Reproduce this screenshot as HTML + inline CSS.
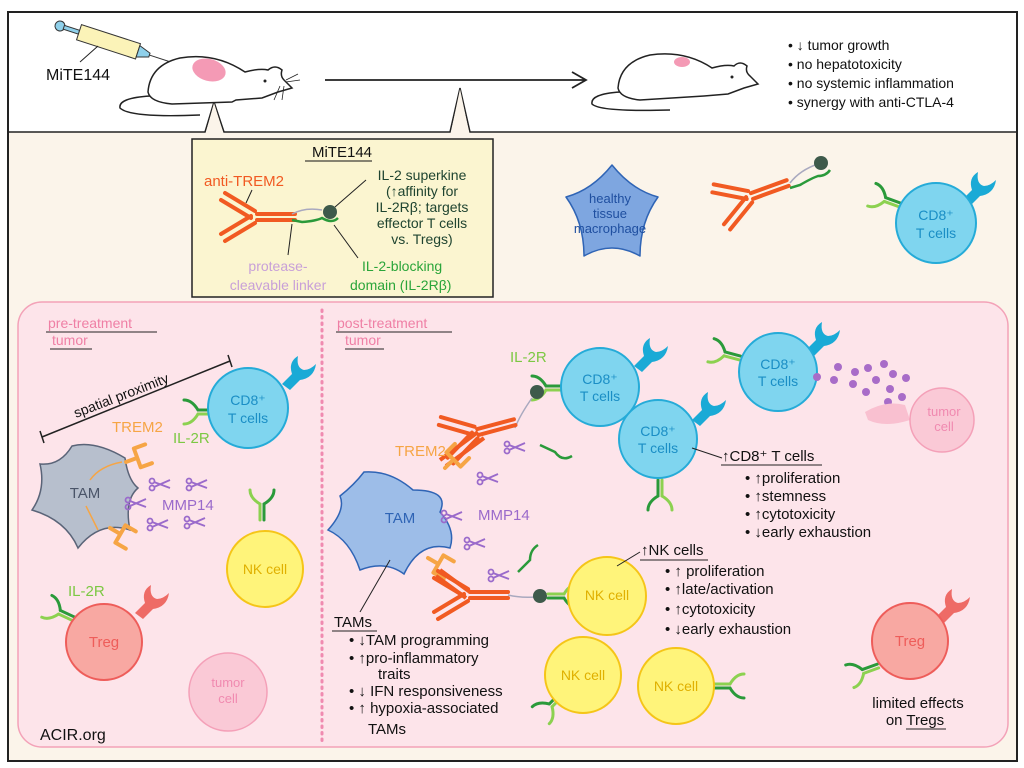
<!DOCTYPE html>
<html><head><meta charset="utf-8"><style>
body{margin:0;background:#fff}
svg{display:block}
text{font-family:"Liberation Sans",sans-serif}
</style></head><body>
<svg width="1024" height="768" viewBox="0 0 1024 768" xmlns="http://www.w3.org/2000/svg">
<defs>
<g id="ab" stroke="#f15a22" stroke-width="4" stroke-linecap="round" fill="none">
<path d="M0,-3 L38,-3 M0,3 L38,3"/>
<path d="M-2,-6 L-32,-24 M-6,1 L-36,-17"/>
<path d="M-2,6 L-32,24 M-6,-1 L-36,17"/>
</g>
<g id="rec" fill="none" stroke-width="3" stroke-linecap="round">
<path d="M0,-2 L16,-2" stroke="#8cd150"/><path d="M0,2 L16,2" stroke="#2a9a3a"/>
<path d="M16,-2 Q22,-12 30,-12" stroke="#8cd150"/><path d="M16,2 Q22,12 30,12" stroke="#2a9a3a"/>
</g>
<g id="cup" fill="#1aaad6"><path d="M0,0 L10,-10 Q6,-22 16,-28 Q14,-16 22,-14 Q28,-14 34,-20 Q32,-6 18,-4 L8,6Z"/></g>
<g id="cupr" fill="#ee6b66"><path d="M0,0 L10,-10 Q6,-22 16,-28 Q14,-16 22,-14 Q28,-14 34,-20 Q32,-6 18,-4 L8,6Z"/></g>
<g id="sc" stroke="#9a6acb" stroke-width="1.8" fill="none"><circle cx="-8" cy="-3" r="2.5"/><circle cx="-8" cy="4" r="2.5"/><path d="M-6,-2 L10,4 M-6,3 L10,-4"/></g>
<g id="trem" stroke="#f6a545" stroke-width="4" fill="none" stroke-linecap="round"><path d="M0,0 L12,0 M12,-10 L12,10 M12,-10 L24,-10 M12,10 L24,10"/></g>
</defs>
<rect width="1024" height="768" fill="#fff"/>
<rect x="8" y="132" width="1009" height="628" fill="#fbf4ea"/>
<rect x="8" y="12" width="1009" height="749" fill="none" stroke="#222" stroke-width="2"/>
<path d="M8,132 L205,132 L214,102 L224,132 L450,132 L460,88 L470,132 L1017,132" fill="none" stroke="#222" stroke-width="1.5"/>
<path d="M206,132 L214,103 L223,132Z M451,132 L460,89 L469,132Z" fill="#fbf4ea"/>
<!-- syringe -->
<g transform="translate(60,26) rotate(18)">
<circle cx="0" cy="0" r="5" fill="#8fd0ea" stroke="#333"/><rect x="4" y="-2" width="16" height="4" fill="#8fd0ea" stroke="#333"/>
<rect x="20" y="-8" width="62" height="16" fill="#fbf3b8" stroke="#333"/><path d="M82,-6 L94,-2 L94,2 L82,6Z" fill="#8fd0ea" stroke="#333"/><path d="M94,0 L118,0" stroke="#333"/>
</g>
<path d="M98,46 L80,62" stroke="#222"/>
<text x="46" y="80" font-size="16" fill="#111">MiTE144</text>
<!-- mouse 1 -->
<path d="M148,92 Q150,65 180,58 Q215,52 245,72 Q260,68 268,70 Q275,64 282,70 Q280,76 284,80 L292,88 L278,92 L262,98 L236,100 L232,102 L172,104 Q150,102 148,92Z" fill="#fff" stroke="#222" stroke-width="1.5"/>
<path d="M150,96 Q118,98 120,108 Q130,118 200,115" fill="none" stroke="#222" stroke-width="1.5"/>
<ellipse cx="209" cy="70" rx="17" ry="11" fill="#f49ab5" transform="rotate(15 209 70)"/>
<circle cx="265" cy="81" r="1.5" fill="#222"/>
<path d="M286,80 L298,74 M286,82 L300,80 M280,86 L274,100 M284,86 L282,100" stroke="#222" stroke-width="0.8"/>
<!-- arrow -->
<path d="M325,80 L585,80 M572,72 L586,80 L572,88" fill="none" stroke="#222" stroke-width="1.8"/>
<!-- mouse 2 -->
<path d="M618,88 Q620,62 650,55 Q685,50 712,68 Q726,64 734,66 Q740,60 747,66 Q745,72 750,76 L758,84 L744,88 L728,94 L704,96 L640,100 Q620,98 618,88Z" fill="#fff" stroke="#222" stroke-width="1.5"/>
<path d="M620,92 Q590,94 592,104 Q600,112 670,110" fill="none" stroke="#222" stroke-width="1.5"/>
<ellipse cx="682" cy="62" rx="8" ry="5" fill="#f49ab5"/>
<circle cx="732" cy="77" r="1.5" fill="#222"/>
<g font-size="14" fill="#111"><text x="788" y="50">• ↓ tumor growth</text><text x="788" y="69">• no hepatotoxicity</text><text x="788" y="88">• no systemic inflammation</text><text x="788" y="107">• synergy with anti-CTLA-4</text></g>
<!-- MiTE box -->
<rect x="192" y="139" width="301" height="158" fill="#fbf5d0" stroke="#222" stroke-width="1.5"/>
<text x="342" y="157" font-size="15" text-anchor="middle" fill="#111">MiTE144</text><path d="M305,161 L372,161" stroke="#111"/>
<text x="204" y="186" font-size="15" fill="#f15a22">anti-TREM2</text>
<path d="M252,190 L246,203" stroke="#222"/>
<use href="#ab" x="257" y="217"/>
<path d="M292,214 Q305,207 322,210" stroke="#a9a9bf" stroke-width="1.5" fill="none"/>
<path d="M292,220 L302,222 Q316,221 322,218 Q332,224 338,218" stroke="#2a9a3a" stroke-width="2.5" fill="none"/>
<circle cx="330" cy="212" r="7" fill="#3e5a4b"/>
<path d="M335,207 L366,180 M334,225 L358,258 M292,224 L288,255" stroke="#222"/>
<g font-size="14" fill="#1f4430" text-anchor="middle"><text x="422" y="180">IL-2 superkine</text><text x="422" y="196">(↑affinity for</text><text x="422" y="212">IL-2Rβ; targets</text><text x="422" y="228">effector T cells</text><text x="422" y="244">vs. Tregs)</text></g>
<g font-size="14" fill="#2aa53a"><text x="362" y="271">IL-2-blocking</text><text x="350" y="290">domain  (IL-2Rβ)</text></g>
<g font-size="14" fill="#c8a0d8" text-anchor="middle"><text x="278" y="271">protease-</text><text x="278" y="290">cleavable linker</text></g>
<!-- healthy macrophage -->
<path d="M612,165 Q632,190 658,197 Q640,222 640,256 Q612,240 584,256 Q584,222 566,197 Q592,190 612,165Z" fill="#7ea6e0" stroke="#2f64b5" stroke-width="1.5" stroke-linejoin="round"/>
<g font-size="13" fill="#1f4fa0" text-anchor="middle"><text x="610" y="203">healthy</text><text x="610" y="218">tissue</text><text x="610" y="233">macrophage</text></g>
<use href="#ab" transform="translate(752,196) rotate(-20)"/>
<path d="M790,183 Q800,170 818,164" stroke="#a9a9bf" stroke-width="1.5" fill="none"/><path d="M790,188 L800,185 Q812,178 818,176 Q826,176 830,170" stroke="#2a9a3a" stroke-width="2.5" fill="none"/><circle cx="821" cy="163" r="7" fill="#3e5a4b"/>
<!-- top right CD8 -->
<use href="#rec" transform="translate(900,205) rotate(200)"/><use href="#cup" transform="translate(962,200)"/>
<circle cx="936" cy="223" r="40" fill="#7fd5ef" stroke="#25abd8" stroke-width="2"/>
<text x="936" y="220" font-size="14" fill="#1a8ec5" text-anchor="middle">CD8⁺</text><text x="936" y="238" font-size="14" fill="#1a8ec5" text-anchor="middle">T cells</text>
<!-- tumor region -->
<rect x="18" y="302" width="990" height="445" rx="24" fill="#fde4ea" stroke="#f3a2b8" stroke-width="1.5"/>
<path d="M322,310 L322,745" stroke="#f08ab0" stroke-width="3" stroke-dasharray="1.5,5" stroke-linecap="round"/>
<g font-size="14" fill="#ef7fa5"><text x="48" y="328">pre-treatment</text><text x="52" y="345">tumor</text><text x="337" y="328">post-treatment</text><text x="345" y="345">tumor</text></g>
<path d="M46,332 L157,332 M50,349 L92,349 M336,332 L452,332 M345,349 L384,349" stroke="#222"/>
<!-- pre-treatment -->
<path d="M42,437 L230,361 M40,431 L44,443 M228,355 L232,367" stroke="#222" stroke-width="1.5"/>
<text x="0" y="0" font-size="14" fill="#111" transform="translate(76,418) rotate(-21)">spatial proximity</text>
<use href="#rec" transform="translate(214,412) rotate(180)"/><use href="#cup" transform="translate(282,384)"/>
<circle cx="248" cy="408" r="40" fill="#7fd5ef" stroke="#25abd8" stroke-width="2"/>
<text x="248" y="405" font-size="14" fill="#1a8ec5" text-anchor="middle">CD8⁺</text><text x="248" y="423" font-size="14" fill="#1a8ec5" text-anchor="middle">T cells</text>
<text x="112" y="432" font-size="15" fill="#f6a545">TREM2</text><text x="173" y="443" font-size="15" fill="#7cc843">IL-2R</text>
<path d="M72,446 Q95,440 125,458 Q128,480 138,488 Q124,500 130,530 Q100,520 78,548 Q66,520 32,510 Q46,490 40,464 Q60,466 72,446Z" fill="#b7bfcd" stroke="#5a6478" stroke-width="1.5"/>
<text x="85" y="498" font-size="15" fill="#4a5468" text-anchor="middle">TAM</text>
<path d="M122,462 Q100,466 90,480 M98,530 Q90,514 86,506" stroke="#f6a545" stroke-width="1.5" fill="none"/>
<use href="#trem" transform="translate(126,462) rotate(-20)"/><use href="#trem" transform="translate(110,528) rotate(30)"/>
<use href="#sc" transform="translate(160,484)"/><use href="#sc" transform="translate(197,484)"/><use href="#sc" transform="translate(136,503)"/><use href="#sc" transform="translate(158,524)"/><use href="#sc" transform="translate(195,522)"/>
<text x="162" y="510" font-size="15" fill="#9a6acb">MMP14</text>
<use href="#rec" transform="translate(262,520) rotate(-90)"/>
<circle cx="265" cy="569" r="38" fill="#fff47a" stroke="#f5c518" stroke-width="2"/>
<text x="265" y="574" font-size="14" fill="#e0b000" text-anchor="middle">NK cell</text>
<text x="68" y="596" font-size="15" fill="#7cc843">IL-2R</text>
<use href="#rec" transform="translate(74,619) rotate(205)"/><use href="#cupr" transform="translate(135,613)"/>
<circle cx="104" cy="642" r="38" fill="#f8a8a2" stroke="#ee5d5a" stroke-width="2"/>
<text x="104" y="647" font-size="15" fill="#ee5d5a" text-anchor="middle">Treg</text>
<circle cx="228" cy="692" r="39" fill="#fac9d6" stroke="#f4a0b8" stroke-width="1.5"/>
<text x="228" y="687" font-size="13" fill="#f08ab0" text-anchor="middle">tumor</text><text x="228" y="703" font-size="13" fill="#f08ab0" text-anchor="middle">cell</text>
<text x="40" y="740" font-size="16" fill="#111">ACIR.org</text>
<!-- post-treatment -->
<text x="510" y="362" font-size="15" fill="#7cc843">IL-2R</text>
<use href="#rec" transform="translate(562,388) rotate(180)"/>
<circle cx="600" cy="387" r="39" fill="#7fd5ef" stroke="#25abd8" stroke-width="2"/><use href="#cup" transform="translate(634,366)"/>
<text x="600" y="384" font-size="14" fill="#1a8ec5" text-anchor="middle">CD8⁺</text><text x="600" y="401" font-size="14" fill="#1a8ec5" text-anchor="middle">T cells</text>
<circle cx="537" cy="392" r="7" fill="#3e5a4b"/><path d="M532,398 Q520,415 515,428" stroke="#a9a9bf" stroke-width="1.5" fill="none"/>
<use href="#rec" transform="translate(660,480) rotate(90)"/>
<circle cx="658" cy="439" r="39" fill="#7fd5ef" stroke="#25abd8" stroke-width="2"/><use href="#cup" transform="translate(692,420)"/>
<text x="658" y="436" font-size="14" fill="#1a8ec5" text-anchor="middle">CD8⁺</text><text x="658" y="453" font-size="14" fill="#1a8ec5" text-anchor="middle">T cells</text>
<use href="#ab" transform="translate(478,432) rotate(-15)"/>
<path d="M440,460 L478,432" stroke="#f15a22" stroke-width="4"/><path d="M446,466 L484,438" stroke="#f15a22" stroke-width="4"/>
<use href="#sc" transform="translate(515,447)"/><use href="#sc" transform="translate(488,478)"/>
<path d="M540,445 L555,452 Q562,462 572,456" stroke="#2a9a3a" stroke-width="2.5" fill="none"/>
<text x="395" y="456" font-size="15" fill="#f6a545">TREM2</text>
<use href="#trem" transform="translate(445,468) rotate(-45)"/>
<path d="M364,472 Q390,470 413,490 Q450,490 440,512 Q456,530 450,548 Q420,540 404,574 Q385,560 360,570 Q350,540 328,530 Q346,510 340,496 Q354,485 364,472Z" fill="#9dbde8" stroke="#2f64b5" stroke-width="1.5"/>
<text x="400" y="523" font-size="15" fill="#2f64b5" text-anchor="middle">TAM</text>
<use href="#sc" transform="translate(452,516)"/><use href="#sc" transform="translate(475,543)"/>
<text x="478" y="520" font-size="15" fill="#9a6acb">MMP14</text>
<use href="#trem" transform="translate(428,558) rotate(30)"/>
<use href="#ab" transform="translate(470,595)"/>
<path d="M440,570 L470,592 M436,576 L466,598" stroke="#f15a22" stroke-width="4"/>
<path d="M508,595 Q520,598 535,597" stroke="#a9a9bf" stroke-width="1.5" fill="none"/>
<circle cx="540" cy="596" r="7" fill="#3e5a4b"/><use href="#rec" transform="translate(548,596)"/>
<use href="#sc" transform="translate(499,575)"/>
<path d="M518,572 L530,560 Q530,550 538,545" stroke="#2a9a3a" stroke-width="2.5" fill="none"/>
<circle cx="607" cy="596" r="39" fill="#fff47a" stroke="#f5c518" stroke-width="2"/><text x="607" y="600" font-size="14" fill="#e0b000" text-anchor="middle">NK cell</text>
<use href="#rec" transform="translate(562,694) rotate(135)"/>
<circle cx="583" cy="675" r="38" fill="#fff47a" stroke="#f5c518" stroke-width="2"/><text x="583" y="680" font-size="14" fill="#e0b000" text-anchor="middle">NK cell</text>
<use href="#rec" transform="translate(714,686)"/>
<circle cx="676" cy="686" r="38" fill="#fff47a" stroke="#f5c518" stroke-width="2"/><text x="676" y="691" font-size="14" fill="#e0b000" text-anchor="middle">NK cell</text>
<!-- top right post CD8 + tumor -->
<use href="#rec" transform="translate(740,358) rotate(195)"/><use href="#cup" transform="translate(806,350)"/>
<circle cx="778" cy="372" r="39" fill="#7fd5ef" stroke="#25abd8" stroke-width="2"/>
<text x="778" y="369" font-size="14" fill="#1a8ec5" text-anchor="middle">CD8⁺</text><text x="778" y="386" font-size="14" fill="#1a8ec5" text-anchor="middle">T cells</text>
<g fill="#a86cc8"><circle cx="817" cy="377" r="4"/><circle cx="838" cy="367" r="4"/><circle cx="834" cy="380" r="4"/><circle cx="855" cy="372" r="4"/><circle cx="868" cy="368" r="4"/><circle cx="884" cy="364" r="4"/><circle cx="853" cy="384" r="4"/><circle cx="876" cy="380" r="4"/><circle cx="893" cy="374" r="4"/><circle cx="906" cy="378" r="4"/><circle cx="866" cy="392" r="4"/><circle cx="890" cy="389" r="4"/><circle cx="902" cy="397" r="4"/><circle cx="888" cy="402" r="4"/></g>
<path d="M865,412 Q885,400 905,405 L910,420 Q885,428 868,420Z" fill="#f9c0d0"/>
<circle cx="942" cy="420" r="32" fill="#fac9d6" stroke="#f4a0b8" stroke-width="1.5"/>
<text x="944" y="416" font-size="13" fill="#f08ab0" text-anchor="middle">tumor</text><text x="944" y="431" font-size="13" fill="#f08ab0" text-anchor="middle">cell</text>
<!-- lists -->
<path d="M692,448 L722,458" stroke="#222"/>
<g font-size="15" fill="#111"><text x="722" y="461">↑CD8⁺ T cells</text><text x="745" y="483">• ↑proliferation</text><text x="745" y="501">• ↑stemness</text><text x="745" y="519">• ↑cytotoxicity</text><text x="745" y="537">• ↓early exhaustion</text></g>
<path d="M721,465 L822,465" stroke="#222"/>
<path d="M617,566 L640,552" stroke="#222"/>
<g font-size="15" fill="#111"><text x="641" y="555">↑NK cells</text><text x="665" y="576">• ↑ proliferation</text><text x="665" y="594">• ↑late/activation</text><text x="665" y="614">• ↑cytotoxicity</text><text x="665" y="634">• ↓early exhaustion</text></g>
<path d="M640,560 L708,560" stroke="#222"/>
<path d="M390,560 L360,612" stroke="#222"/>
<g font-size="15" fill="#111"><text x="334" y="627">TAMs</text><text x="349" y="645">• ↓TAM programming</text><text x="349" y="663">• ↑pro-inflammatory</text><text x="378" y="679">traits</text><text x="349" y="696">• ↓ IFN responsiveness</text><text x="349" y="713">• ↑ hypoxia-associated</text><text x="368" y="734">TAMs</text></g>
<path d="M332,631 L377,631" stroke="#222"/>
<use href="#rec" transform="translate(878,666) rotate(160)"/><use href="#cupr" transform="translate(936,617)"/>
<circle cx="910" cy="641" r="38" fill="#f8a8a2" stroke="#ee5d5a" stroke-width="2"/>
<text x="910" y="646" font-size="15" fill="#ee5d5a" text-anchor="middle">Treg</text>
<g font-size="15" fill="#111" text-anchor="middle"><text x="918" y="708">limited effects</text><text x="915" y="725">on Tregs</text></g>
<path d="M906,729 L946,729" stroke="#222"/>
</svg>
</body></html>
